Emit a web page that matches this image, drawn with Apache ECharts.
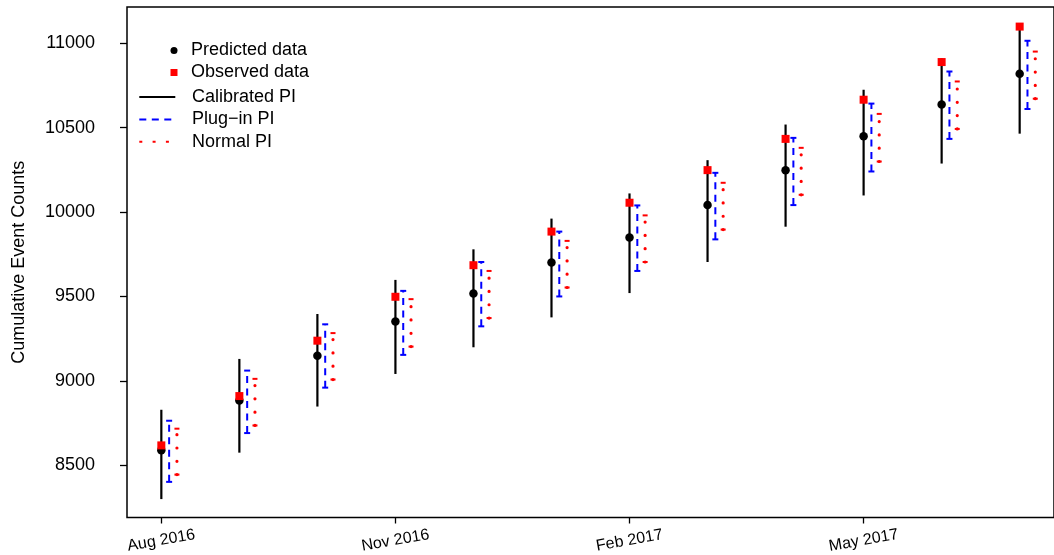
<!DOCTYPE html>
<html>
<head>
<meta charset="utf-8">
<script src="https://cdn.jsdelivr.net/npm/echarts@6/dist/echarts.min.js"></script>
<style>
html,body{margin:0;padding:0;background:#fff;}
#c{width:1054px;height:555px;}
</style>
</head>
<body>
<div id="c"></div>
<script>
// ---- data ----
const months = ['Aug 2016','Sep 2016','Oct 2016','Nov 2016','Dec 2016','Jan 2017',
                'Feb 2017','Mar 2017','Apr 2017','May 2017','Jun 2017','Jul 2017'];
const xTickIndex = [0, 3, 6, 9];
const yTicks = [8500, 9000, 9500, 10000, 10500, 11000];

const predicted = [8589, 8884, 9149, 9352, 9518, 9701, 9849, 10041, 10248, 10449, 10636, 10819];
const observed  = [8618, 8910, 9238, 9498, 9685, 9884, 10055, 10248, 10433, 10665, 10888, 11098];
const calLower  = [8300, 8575, 8848, 9041, 9199, 9376, 9520, 9704, 9913, 10098, 10287, 10464];
const calUpper  = [8829, 9130, 9396, 9598, 9779, 9961, 10110, 10307, 10518, 10724, 10910, 11095];
const plugLower = [8402, 8691, 8960, 9154, 9323, 9500, 9651, 9838, 10041, 10240, 10433, 10610];
const plugUpper = [8764, 9061, 9335, 9533, 9704, 9884, 10039, 10232, 10439, 10642, 10832, 11014];
const normLower = [8445, 8736, 9008, 9203, 9372, 9553, 9704, 9896, 10102, 10299, 10492, 10671];
const normUpper = [8717, 9012, 9283, 9484, 9651, 9829, 9980, 10173, 10380, 10581, 10773, 10950];

const names = ['Predicted data', 'Observed data', 'Calibrated PI', 'Plug\u2212in PI', 'Normal PI'];

// ---- styling ----
const FONT = '"Liberation Sans", Arial, Helvetica, sans-serif';
const BLUE = '#0000ff', RED = '#ff0000', BLACK = '#000000';
const BLUE_DASH = [7, 5.5];
const RED_DOT = [0.01, 13.3];

const chart = echarts.init(document.getElementById('c'), null, {renderer: 'canvas'});

function piRender(offset, color, width, dash, lineCap, capHalf, capWidth) {
  return function (params, api) {
    const xv = api.value(0) + offset;
    const lo = api.coord([xv, api.value(1)]);
    const hi = api.coord([xv, api.value(2)]);
    const children = [{
      type: 'line',
      shape: {x1: lo[0], y1: lo[1], x2: hi[0], y2: hi[1]},
      style: {stroke: color, lineWidth: width, lineDash: dash, lineCap: lineCap, fill: null}
    }];
    if (capHalf > 0) {
      [lo, hi].forEach(function (p) {
        children.push({
          type: 'line',
          shape: {x1: p[0] - capHalf, y1: p[1], x2: p[0] + capHalf, y2: p[1]},
          style: {stroke: color, lineWidth: capWidth, fill: null}
        });
      });
    }
    return {type: 'group', children: children};
  };
}

const idx = months.map(function (m, i) { return i; });
const calData  = idx.map(function (i) { return [i, calLower[i], calUpper[i]]; });
const plugData = idx.map(function (i) { return [i, plugLower[i], plugUpper[i]]; });
const normData = idx.map(function (i) { return [i, normLower[i], normUpper[i]]; });
const predData = idx.map(function (i) { return [i, predicted[i]]; });
const obsData  = idx.map(function (i) { return [i, observed[i]]; });

function legendRow(name, left, centerY, w, h, pad, hideSymbol) {
  const item = hideSymbol ? {name: name, itemStyle: {opacity: 0}} : {name: name};
  return {
    data: [item],
    orient: 'vertical',
    left: left,
    top: centerY - 10,
    padding: 0,
    itemWidth: w,
    itemHeight: h,
    selectedMode: false,
    textStyle: {fontSize: 18, fontFamily: FONT, color: BLACK, lineHeight: 20, padding: [0, 0, 0, pad]}
  };
}

const option = {
  animation: false,
  backgroundColor: '#ffffff',
  grid: {left: 127, top: 7, width: 936, height: 512, show: true,
         borderColor: BLACK, borderWidth: 1.5, backgroundColor: 'transparent'},
  legend: [
    legendRow(names[0], 170.5, 50.5, 7, 7, 8.5, false),
    legendRow(names[1], 170.5, 72.5, 7, 7, 8.5, false),
    legendRow(names[2], 138.3, 97, 36, 14, 11.7, true),
    legendRow(names[3], 138.3, 119.5, 36, 14, 11.7, true),
    legendRow(names[4], 138.3, 141.7, 36, 14, 11.7, true)
  ],
  xAxis: {
    type: 'value', min: -0.44, max: 11.44,
    axisLine: {show: false, onZero: false},
    splitLine: {show: false},
    axisTick: {show: true, length: 6, customValues: xTickIndex, lineStyle: {color: BLACK, width: 1.3}},
    axisLabel: {
      customValues: xTickIndex,
      formatter: function (v) { return months[Math.round(v)]; },
      rotate: 10, align: 'center', verticalAlign: 'middle', margin: 23,
      fontSize: 16, fontFamily: FONT, color: BLACK
    }
  },
  yAxis: {
    type: 'value', min: 8191, max: 11214,
    axisLine: {show: false, onZero: false},
    splitLine: {show: false},
    axisTick: {show: true, length: 7, customValues: yTicks, lineStyle: {color: BLACK, width: 1.3}},
    axisLabel: {customValues: yTicks, fontSize: 18, fontFamily: FONT, color: BLACK, margin: 32,
                formatter: function (v) { return String(v); }},
    name: 'Cumulative Event Counts',
    nameLocation: 'middle', nameRotate: 90, nameGap: 99,
    nameTextStyle: {fontSize: 18, fontFamily: FONT, color: BLACK}
  },
  series: [
    {name: names[2], type: 'line', data: [], symbol: 'none',
     lineStyle: {color: BLACK, width: 2}, itemStyle: {color: BLACK}},
    {name: names[3], type: 'line', data: [], symbol: 'none',
     lineStyle: {color: BLUE, width: 2, type: BLUE_DASH}, itemStyle: {color: BLUE}},
    {name: names[4], type: 'line', data: [], symbol: 'none',
     lineStyle: {color: RED, width: 3, type: [3, 10.3]}, itemStyle: {color: RED}},
    {name: names[2], type: 'custom', data: calData, encode: {x: 0, y: [1, 2]},
     renderItem: piRender(0, BLACK, 2.2, null, 'butt', 0, 0), z: 2},
    {name: names[3], type: 'custom', data: plugData, encode: {x: 0, y: [1, 2]},
     renderItem: piRender(0.1, BLUE, 2, BLUE_DASH, 'butt', 3, 2), z: 2},
    {name: names[4], type: 'custom', data: normData, encode: {x: 0, y: [1, 2]},
     renderItem: piRender(0.2, RED, 3.2, RED_DOT, 'round', 2.5, 2), z: 2},
    {name: names[0], type: 'scatter', data: predData, symbol: 'circle', symbolSize: 8.5,
     itemStyle: {color: BLACK, opacity: 1}, z: 3},
    {name: names[1], type: 'scatter', data: obsData, symbol: 'rect', symbolSize: 8,
     itemStyle: {color: RED, opacity: 1}, z: 4}
  ]
};
chart.setOption(option);
</script>
</body>
</html>
